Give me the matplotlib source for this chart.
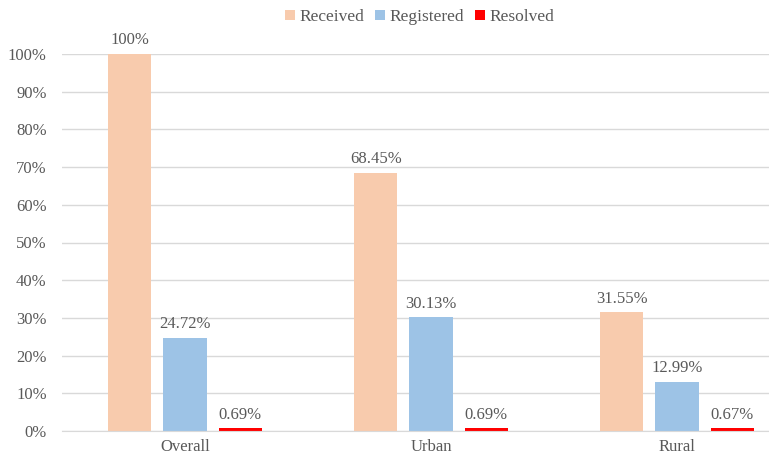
import matplotlib
matplotlib.use('Agg')
import matplotlib.pyplot as plt
import numpy as np
from matplotlib.ticker import PercentFormatter

# 데이터
groups = ['Overall', 'Urban', 'Rural']
series_names = ['Received', 'Registered', 'Resolved']
received = [100.0, 68.45, 31.55]
registered = [24.72, 30.13, 12.99]
resolved = [0.69, 0.69, 0.67]
value_labels = [
    ['100%', '68.45%', '31.55%'],
    ['24.72%', '30.13%', '12.99%'],
    ['0.69%', '0.69%', '0.67%'],
]

colors = ['#F8CBAD', '#9DC3E6', '#FF0000']
text_color = '#595959'
grid_color = '#D9D9D9'

plt.rcParams['font.family'] = ['Liberation Serif', 'DejaVu Serif']

fig = plt.figure(figsize=(7.69, 4.57), dpi=100)
ax = fig.add_axes([62 / 769, 26 / 457, 707 / 769, 377 / 457])

x = np.arange(len(groups))
width = 0.175
offset = 0.224
all_series = [received, registered, resolved]

for i, (name, vals) in enumerate(zip(series_names, all_series)):
    pos = x + (i - 1) * offset
    bars = ax.bar(pos, vals, width, color=colors[i], label=name, zorder=3)
    for b, lab in zip(bars, value_labels[i]):
        ax.annotate(lab, (b.get_x() + b.get_width() / 2, b.get_height()),
                    xytext=(0, 4), textcoords='offset points',
                    ha='center', va='bottom', fontsize=12, color=text_color)

ax.set_xlim(-0.5, -0.5 + 707 / 246)
ax.set_ylim(0, 100)
ax.set_yticks(np.arange(0, 101, 10))
ax.yaxis.set_major_formatter(PercentFormatter(decimals=0))
ax.set_xticks(x)
ax.set_xticklabels(groups)
ax.tick_params(axis='both', length=0, labelsize=12, colors=text_color)
ax.tick_params(axis='y', pad=11)
ax.tick_params(axis='x', pad=6)

ax.grid(axis='y', color=grid_color, linewidth=1, zorder=0)
for s in ['top', 'right', 'left']:
    ax.spines[s].set_visible(False)
ax.spines['bottom'].set_color(grid_color)
ax.spines['bottom'].set_zorder(4)

leg = fig.legend(loc='center', bbox_to_anchor=(0.546, 0.962), ncol=3,
                 frameon=False, fontsize=12.5, handlelength=0.55, handleheight=0.55,
                 handletextpad=0.3, columnspacing=0.6)
for t in leg.get_texts():
    t.set_color(text_color)

fig.savefig('out.png', dpi=100)
